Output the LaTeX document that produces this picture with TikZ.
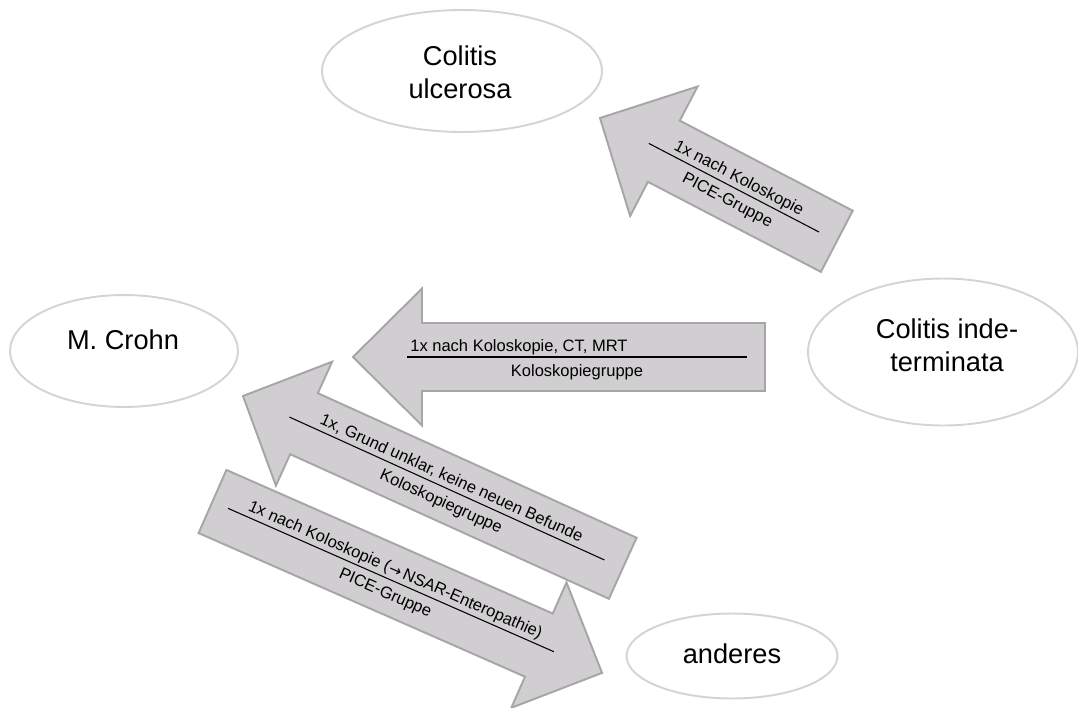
\documentclass[tikz,border=0pt]{standalone}
\usepackage{fontspec}
\setmainfont{Liberation Sans}
\newfontfamily\symfont{DejaVu Sans}
\usetikzlibrary{shapes.geometric}
\definecolor{arrowfill}{HTML}{D0CED0}
\definecolor{arrowline}{HTML}{A6A6A6}
\definecolor{ellline}{HTML}{D4D4D4}
\tikzset{
  every picture/.style={
    line join=round,
    line cap=round,
  },
  % diagnoses
  diag/.style={ellipse, draw=ellline, line width=1.1pt, fill=white, inner sep=0pt},
  diagtext/.style={font=\fontsize{15.5}{19}\selectfont, align=center, inner sep=0pt},
  % block arrows and their two-line captions
  blockarrow/.style={fill=arrowfill, draw=arrowline, line width=1.1pt, line join=miter},
  captext/.style={font=\fontsize{9.4}{11}\selectfont, inner sep=0pt},
  caprule/.style={line width=0.6pt, line cap=butt},
}
\begin{document}
\begin{tikzpicture}[x=0.02cm,y=-0.02cm]
\useasboundingbox (0,0) rectangle (1078,707);
\begin{scope}[shift={(600,118)},rotate=-27.5,transform shape]
\draw[blockarrow](0,0)--(72,-73)--(72,-34.5)--(267,-34.5)
  --(267,34.5)--(72,34.5)--(72,73)--cycle;
\coordinate (r1a) at (55,0);
\coordinate (r1b) at (247,0);
\draw[caprule](r1a)--(r1b);
\node[captext,anchor=base] (c1top) at (151,-6) {1x nach Koloskopie};
\node[captext,anchor=north] (c1bot) at (151,7) {PICE-Gruppe};
\end{scope}
\begin{scope}[shift={(353,357)}]
\draw[blockarrow](0,0)--(69,-68.5)--(69,-34)--(412,-34)
  --(412,34)--(69,34)--(69,68.5)--cycle;
\coordinate (r2a) at (54,0);
\coordinate (r2b) at (394,0);
\draw[caprule](r2a)--(r2b);
\node[captext,anchor=base west] (c2top) at (57,-6) {1x nach Koloskopie, CT, MRT};
\node[captext,anchor=north] (c2bot) at (224,7) {Koloskopiegruppe};
\end{scope}
\begin{scope}[shift={(243,396)},rotate=-24.4,transform shape]
\draw[blockarrow](0,0)--(67,-68)--(67,-33.5)--(417,-33.5)
  --(417,33.5)--(67,33.5)--(67,68)--cycle;
\coordinate (r3a) at (51,0);
\coordinate (r3b) at (397,0);
\draw[caprule](r3a)--(r3b);
\node[captext,anchor=base] (c3top) at (224,-6) {1x, Grund unklar, keine neuen Befunde};
\node[captext,anchor=north] (c3bot) at (224,7) {Koloskopiegruppe};
\end{scope}
\begin{scope}[shift={(212.5,501.5)},rotate=-23.75,transform shape]
\draw[blockarrow](0,-34.5)--(356.6,-34.5)--(356.6,-68.5)--(425.6,0)
  --(356.6,68.5)--(356.6,34.5)--(0,34.5)--cycle;
\coordinate (r4a) at (17,0);
\coordinate (r4b) at (373,0);
\draw[caprule](r4a)--(r4b);
\node[captext,anchor=base] (c4top) at (195,-6) {1x nach Koloskopie ({\symfont\fontsize{8.6}{11}\selectfont →}\,NSAR-Enteropathie)};
\node[captext,anchor=north] (c4bot) at (195,7) {PICE-Gruppe};
\end{scope}
\node[diag,minimum width=5.6cm,minimum height=2.44cm] (cu) at (462,71) {};
\node[diag,minimum width=4.56cm,minimum height=2.24cm] (mc) at (124,351) {};
\node[diag,minimum width=5.4cm,minimum height=2.94cm] (ci) at (943,352) {};
\node[diag,minimum width=4.22cm,minimum height=1.7cm] (an) at (732,656) {};
\node[diagtext] (cutext) at (460,72) {Colitis\\ulcerosa};
\node[diagtext] (mctext) at (123,340) {M. Crohn};
\node[diagtext] (citext) at (947,345) {Colitis inde-\\terminata};
\node[diagtext] (antext) at (732,654) {anderes};
\end{tikzpicture}
\end{document}
